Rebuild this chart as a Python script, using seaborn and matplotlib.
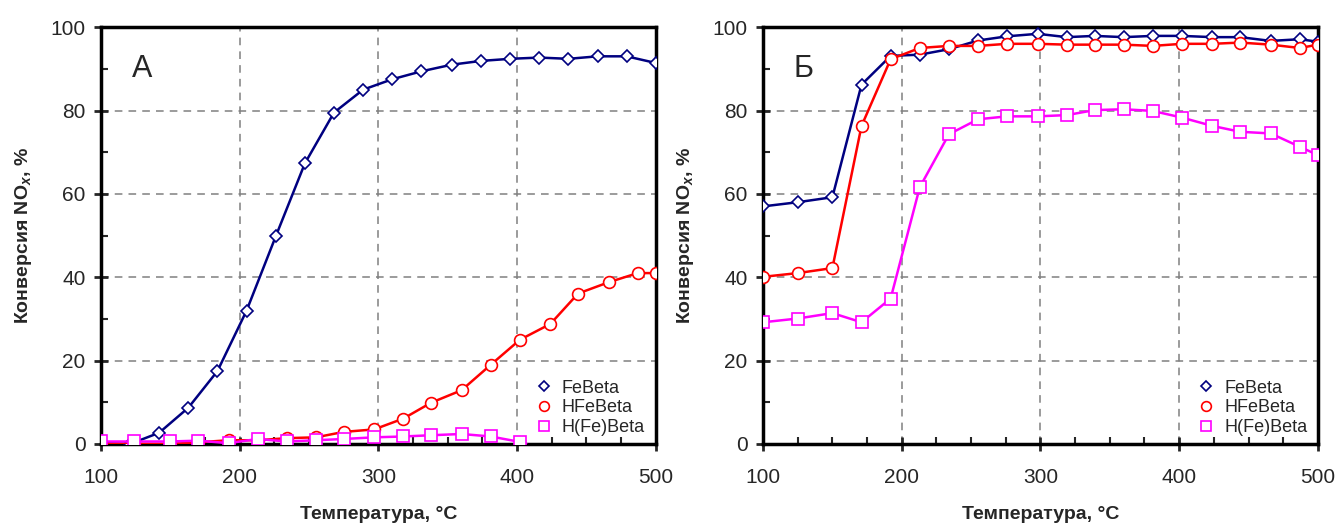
import matplotlib as mpl
from matplotlib import pyplot as plt
from matplotlib.lines import Line2D
import numpy as np
import pandas as pd
import seaborn as sns

sns.set_style("ticks")
plt.rcParams['font.family'] = ['Liberation Sans', 'DejaVu Sans']
plt.rcParams['mathtext.fontset'] = 'custom'
plt.rcParams['mathtext.it'] = 'Liberation Sans:bold:italic'
plt.rcParams['mathtext.rm'] = 'Liberation Sans:bold'

# Panel A data
TEMP_A_FE = [100, 121, 142, 163, 184, 205, 226, 247, 268, 289, 310, 331, 353, 374, 395, 416, 437, 458, 479, 500]
FE_A = [0.2, 0.0, 2.7, 8.7, 17.5, 32.0, 49.8, 67.3, 79.5, 85.0, 87.5, 89.4, 91.0, 91.9, 92.4, 92.7, 92.4, 93.0, 93.0, 91.4]

TEMP_A_H = [100, 124, 150, 170, 192, 213, 234, 255, 275, 297, 318, 338, 360, 381, 402, 424, 444, 466, 487, 500]
HFE_A = [0.0, 0.0, 0.0, 0.4, 0.9, 0.9, 1.4, 1.6, 2.9, 3.5, 6.1, 9.9, 12.9, 19.0, 25.0, 28.8, 36.1, 38.8, 41.0, 41.0]
H_FE_A = [0.6, 0.6, 0.6, 0.8, 0.2, 1.2, 0.6, 0.9, 1.2, 1.6, 1.8, 2.1, 2.4, 1.8, 0.5, -2.5]

# Panel B data
TEMP_B = [100, 125, 150, 171, 192, 213, 234, 255, 276, 298, 319, 339, 360, 381, 402, 424, 444, 466, 487, 500]
FE_B = [57.0, 58.0, 59.2, 86.2, 93.1, 93.4, 94.7, 96.8, 97.8, 98.4, 97.6, 97.9, 97.6, 97.9, 97.9, 97.6, 97.6, 96.7, 97.1, 96.5]
HFE_B = [40.1, 41.0, 42.2, 76.3, 92.3, 95.0, 95.5, 95.5, 96.0, 96.0, 95.8, 95.8, 95.8, 95.5, 96.0, 96.0, 96.3, 95.8, 95.0, 95.8]
H_FE_B = [29.2, 30.1, 31.4, 29.2, 34.9, 61.6, 74.3, 77.9, 78.6, 78.6, 78.9, 80.1, 80.3, 79.9, 78.3, 76.3, 74.9, 74.5, 71.3, 69.3]

LABELS = ['FeBeta', 'HFeBeta', 'H(Fe)Beta']
COLORS = ['#000080', '#FF0000', '#FF00FF']
MARKERS = ['D', 'o', 's']
MSIZES = [6.5, 8.5, 8]

panels = [
    ('А', [(TEMP_A_FE, FE_A), (TEMP_A_H, HFE_A), (TEMP_A_H[:len(H_FE_A)], H_FE_A)]),
    ('Б', [(TEMP_B, FE_B), (TEMP_B, HFE_B), (TEMP_B, H_FE_B)]),
]

fig = plt.figure(figsize=(13.37, 5.25), dpi=100)
ax_a = fig.add_axes([0.0755, 0.1543, 0.415, 0.794])
ax_b = fig.add_axes([0.5707, 0.1543, 0.415, 0.794])

for axes, (letter, series) in zip([ax_a, ax_b], panels):

    # Draw the curves
    for (tx, vals), lab, col, mk, ms in zip(series, LABELS, COLORS, MARKERS, MSIZES):
        df = pd.DataFrame({'T': tx, 'X': vals})
        sns.lineplot(data=df, x='T', y='X', ax=axes, color=col, marker=mk,
                     markersize=ms, markerfacecolor='white', markeredgecolor=col,
                     markeredgewidth=1.2, linewidth=1.8, sort=False, zorder=3)

    axes.set_xlim(100, 500)
    axes.set_ylim(0, 100)
    axes.set_xticks([100, 200, 300, 400, 500])
    axes.set_yticks([0, 20, 40, 60, 80, 100])
    axes.set_xticks(np.arange(100, 501, 25), minor=True)
    axes.set_yticks(np.arange(0, 101, 10), minor=True)
    axes.tick_params(which='major', direction='inout', length=10, width=2, labelsize=15, pad=6)
    axes.tick_params(which='minor', direction='in', length=5, width=1.5)
    axes.tick_params(axis='x', which='major', pad=12)

    for sp in axes.spines.values():
        sp.set_linewidth(2.5)
        sp.set_color('black')

    # Dashed grid
    axes.grid(which='major', color='#808080', ls=(0, (5, 4)), lw=1.1)
    axes.set_axisbelow(True)

    axes.set_xlabel('Температура, °C', fontsize=14, fontweight='bold', labelpad=14)
    axes.set_ylabel(r'Конверсия NO$_{\mathit{x}}$, %', fontsize=14, fontweight='bold', labelpad=12)

    axes.text(0.055, 0.9, letter, transform=axes.transAxes, fontsize=22, va='center', ha='left')

    handles = [Line2D([], [], ls='none', marker=mk, color=col, markerfacecolor='white',
                      markersize=ms - 1.5, markeredgewidth=1.2)
               for col, mk, ms in zip(COLORS, MARKERS, MSIZES)]
    axes.legend(handles, LABELS, loc='lower right', bbox_to_anchor=(1.01, -0.02), frameon=False,
                fontsize=13, handlelength=1.0, handletextpad=0.5, labelspacing=0.15)

fig.savefig('out.png', dpi=100)
